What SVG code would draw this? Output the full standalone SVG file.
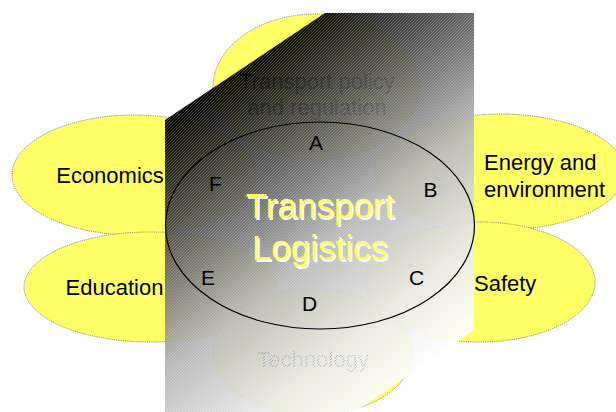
<svg xmlns="http://www.w3.org/2000/svg" width="616" height="412" viewBox="0 0 616 412">
  <style>
    .petal { fill: #FFFF66; stroke: #6e6e6e; stroke-width: 0.8; stroke-dasharray: 1.2 1; }
    .label { font-family: "Liberation Sans", Arial, sans-serif; font-size: 22px; fill: #000; }
    .mid { text-anchor: middle; }
    .letter { font-family: "Liberation Sans", Arial, sans-serif; font-size: 21px; fill: #000; text-anchor: middle; }
    .title { font-family: "Liberation Sans", Arial, sans-serif; font-size: 35px; text-anchor: middle; }
  </style>
  <defs>
    <!-- dark-to-light sweep for the block shape -->
    <linearGradient id="sweep" gradientUnits="userSpaceOnUse" x1="165" y1="120" x2="388" y2="399">
      <stop offset="0" stop-color="#000"/>
      <stop offset="0.25" stop-color="#505050"/>
      <stop offset="0.55" stop-color="#b8b8b8"/>
      <stop offset="0.8" stop-color="#e8e8e8"/>
      <stop offset="1" stop-color="#fff"/>
    </linearGradient>
    <!-- diagonal hatching that lets the layer below show through -->
    <pattern id="hatch" width="3" height="3" patternUnits="userSpaceOnUse">
      <rect width="3" height="3" fill="#fff"/>
      <rect x="2" y="0" width="1" height="1" fill="#c4c4c4"/>
      <rect x="1" y="1" width="1" height="1" fill="#c4c4c4"/>
      <rect x="0" y="2" width="1" height="1" fill="#c4c4c4"/>
    </pattern>
    <mask id="hatchMask" maskUnits="userSpaceOnUse" x="0" y="0" width="616" height="412">
      <rect width="616" height="412" fill="url(#hatch)"/>
    </mask>
  </defs>

  <rect width="616" height="412" fill="#fff"/>

  <!-- surrounding topic petals -->
  <g id="policy">
    <ellipse class="petal" cx="316" cy="87" rx="103" ry="73"/>
    <text class="label mid" x="317" y="89">Transport policy</text>
    <text class="label mid" x="317" y="115">and regulation</text>
  </g>
  <g id="economics">
    <ellipse class="petal" cx="134" cy="175" rx="122" ry="60"/>
    <text class="label mid" x="110" y="183">Economics</text>
  </g>
  <g id="energy">
    <ellipse class="petal" cx="500" cy="172" rx="125" ry="58"/>
    <text class="label" x="484" y="170">Energy and</text>
    <text class="label" x="484" y="197">environment</text>
  </g>
  <g id="education">
    <ellipse class="petal" cx="150" cy="287" rx="126" ry="55"/>
    <text class="label mid" x="114.5" y="295">Education</text>
  </g>
  <g id="safety">
    <ellipse class="petal" cx="480" cy="282" rx="115" ry="60"/>
    <text class="label" x="474" y="291">Safety</text>
  </g>
  <g id="technology">
    <ellipse class="petal" cx="313" cy="352" rx="100" ry="63"/>
    <text class="label mid" x="313" y="367">Technology</text>
  </g>

  <!-- shaded block behind the core -->
  <polygon points="165,120 325,13 474,13 474,330 355,412 165,412" fill="url(#sweep)" mask="url(#hatchMask)"/>

  <!-- core: transport logistics with its six sectors -->
  <g id="core">
    <ellipse cx="320" cy="225.5" rx="154.5" ry="103.5" fill="none" stroke="#000" stroke-width="1.2"/>
    <text class="letter" x="316" y="150">A</text>
    <text class="letter" x="430.5" y="197">B</text>
    <text class="letter" x="416.5" y="285">C</text>
    <text class="letter" x="309.5" y="311">D</text>
    <text class="letter" x="208" y="285">E</text>
    <text class="letter" x="215.5" y="191">F</text>
    <text class="title" x="321.5" y="219.5" fill="#fff">Transport</text>
    <text class="title" x="321.5" y="261.5" fill="#fff">Logistics</text>
    <text class="title" x="320" y="218" fill="#FFFF66">Transport</text>
    <text class="title" x="320" y="260" fill="#FFFF66">Logistics</text>
  </g>
</svg>
